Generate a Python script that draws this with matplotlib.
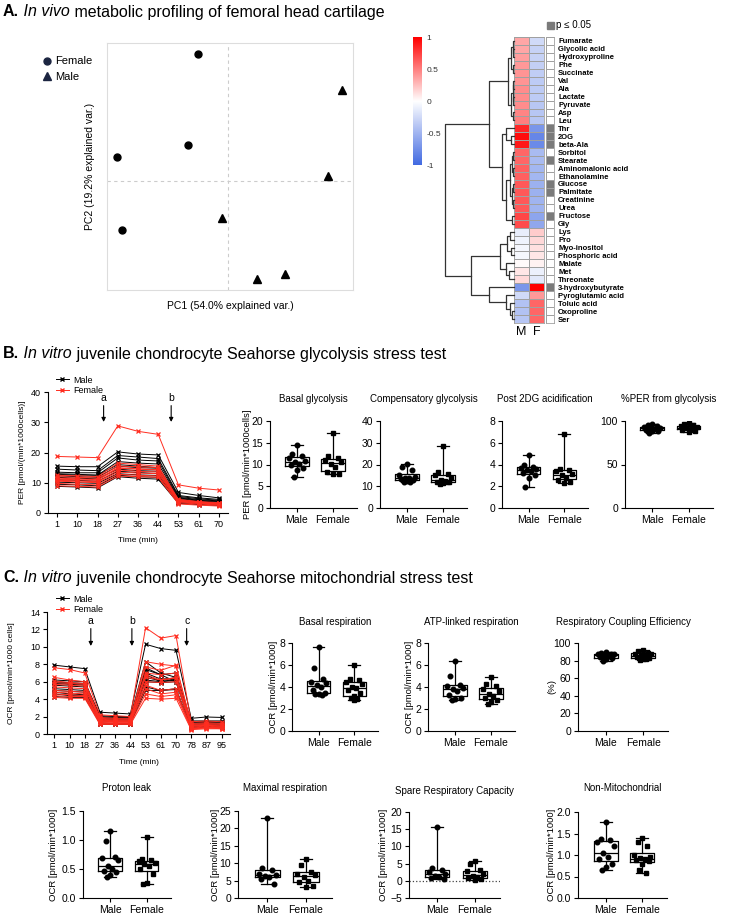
import numpy as np
import matplotlib
matplotlib.use('Agg')
import matplotlib.pyplot as plt
from matplotlib.colors import LinearSegmentedColormap, ListedColormap
from matplotlib.lines import Line2D

plt.rcParams['font.family'] = ['Liberation Sans', 'DejaVu Sans']
plt.rcParams['axes.linewidth'] = 0.8

# ---------------- A. PCA ----------------
pc1_female = [-0.75, -1.0, -2.78, -2.65]
pc2_female = [3.18, 0.9, 0.6, -1.23]
pc1_male = [2.85, 2.5, -0.15, 0.73, 1.43]
pc2_male = [2.28, 0.13, -0.93, -2.45, -2.33]

# ---------------- A. heatmap ----------------
metabolites = ['Fumarate', 'Glycolic acid', 'Hydroxyproline', 'Phe', 'Succinate', 'Val', 'Ala',
               'Lactate', 'Pyruvate', 'Asp', 'Leu', 'Thr', '2OG', 'beta-Ala', 'Sorbitol', 'Stearate',
               'Aminomalonic acid', 'Ethanolamine', 'Glucose', 'Palmitate', 'Creatinine', 'Urea',
               'Fructose', 'Gly', 'Lys', 'Pro', 'Myo-inositol', 'Phosphoric acid', 'Malate', 'Met',
               'Threonate', '3-hydroxybutyrate', 'Pyroglutamic acid', 'Toluic acid', 'Oxoproline', 'Ser']
corr_male = [0.35, 0.35, 0.38, 0.40, 0.42, 0.42, 0.45, 0.45, 0.45, 0.48, 0.50,
             0.85, 0.95, 0.90, 0.60, 0.60, 0.62, 0.62, 0.65, 0.65, 0.65, 0.65, 0.72, 0.70,
             -0.12, -0.08, -0.06, -0.05, 0.02, 0.10, 0.15,
             -0.70, -0.25, -0.40, -0.40, -0.38]
corr_female = [-0.25, -0.30, -0.30, -0.32, -0.33, -0.35, -0.35, -0.35, -0.37, -0.38, -0.38,
               -0.70, -0.80, -0.78, -0.45, -0.45, -0.48, -0.48, -0.52, -0.52, -0.50, -0.50, -0.60, -0.58,
               0.20, 0.15, 0.12, 0.10, 0.05, -0.10, -0.15,
               1.00, 0.40, 0.60, 0.60, 0.60]
p_sig = [0, 0, 0, 0, 0, 0, 0, 0, 0, 0, 0,
         1, 1, 1, 0, 1, 0, 0, 1, 1, 0, 0, 1, 0,
         0, 0, 0, 0, 0, 0, 0,
         1, 0, 0, 0, 0]

# row dendrogram: (height, left, right), leaves are row indices
row_tree = (1.0,
            (0.36,
             (0.09,
              (0.04, (0.02, 0, (0.01, 1, 2)), (0.02, 3, 4)),
              (0.05, (0.02, (0.01, 5, 6), (0.01, 7, 8)), (0.02, 9, 10))),
             (0.18,
              (0.12, 11, (0.04, 12, 13)),
              (0.12,
               (0.06, (0.03, (0.015, 14, 15), (0.015, 16, 17)), (0.03, (0.015, 18, 19), (0.015, 20, 21))),
               (0.03, 22, 23)))),
            (0.62,
             (0.21, (0.10, (0.06, 24, 25), (0.04, 26, 27)), (0.12, 28, (0.07, 29, 30))),
             (0.36, 31, (0.12, 32, (0.06, 33, (0.03, 34, 35))))))

# ---------------- B. glycolysis stress test ----------------
glyco_times = ['1', '10', '18', '27', '36', '44', '53', '61', '70']
per_male = [
    [15.5, 15.3, 15.3, 20.2, 19.5, 19.2, 6.8, 5.8, 5.0],
    [14.5, 14.2, 14.0, 19.0, 18.5, 18.0, 5.8, 5.0, 4.5],
    [13.5, 13.3, 13.3, 18.2, 17.5, 17.2, 5.5, 4.7, 4.2],
    [13.0, 12.8, 12.5, 17.0, 16.5, 16.2, 5.2, 4.4, 4.0],
    [12.8, 12.5, 12.5, 16.0, 15.5, 15.0, 5.0, 4.2, 3.8],
    [12.3, 12.0, 11.8, 15.5, 15.0, 14.8, 4.8, 4.0, 3.6],
    [11.8, 11.5, 11.3, 14.5, 14.0, 13.8, 4.5, 3.8, 3.4],
    [11.0, 10.8, 10.5, 13.8, 13.4, 13.0, 4.2, 3.6, 3.2],
    [10.2, 10.0, 9.8, 13.0, 12.6, 12.4, 3.8, 3.3, 3.0],
    [9.5, 9.3, 9.0, 12.5, 12.0, 11.8, 3.5, 3.0, 2.8],
    [8.8, 8.6, 8.3, 12.0, 11.5, 11.2, 3.2, 2.8, 2.5],
]
per_female = [
    [18.7, 18.5, 18.3, 28.8, 27.0, 26.0, 9.3, 8.2, 7.6],
    [12.5, 12.3, 12.0, 16.5, 16.0, 15.5, 4.5, 3.8, 3.4],
    [12.0, 11.8, 11.5, 15.5, 15.3, 15.0, 4.2, 3.6, 3.2],
    [11.5, 11.3, 11.0, 15.0, 14.6, 14.3, 4.3, 3.6, 3.2],
    [11.2, 11.0, 10.8, 14.8, 14.5, 14.2, 4.0, 3.4, 3.0],
    [10.8, 10.6, 10.3, 14.2, 13.8, 13.5, 3.9, 3.3, 2.9],
    [10.5, 10.3, 10.0, 13.5, 13.2, 13.0, 3.7, 3.2, 2.8],
    [9.8, 9.5, 9.3, 12.8, 12.5, 12.2, 3.4, 3.0, 2.6],
    [9.0, 8.8, 8.6, 12.2, 12.0, 11.8, 3.0, 2.6, 2.3],
]
basal_glyco_m = [14.4, 12.3, 12.0, 11.5, 10.8, 10.5, 10.2, 9.8, 9.3, 8.8, 7.2]
basal_glyco_f = [17.2, 12.0, 11.5, 11.0, 10.5, 10.2, 9.5, 8.2, 7.9, 7.8]
comp_glyco_m = [20.3, 19.0, 17.5, 15.0, 14.2, 14.0, 13.8, 13.5, 13.0, 12.5, 12.0, 11.8]
comp_glyco_f = [28.7, 16.5, 15.5, 15.0, 14.0, 13.0, 12.5, 12.0, 11.8, 11.5, 11.2]
post2dg_m = [4.9, 4.0, 3.8, 3.7, 3.6, 3.5, 3.4, 3.2, 3.0, 2.8, 1.95]
post2dg_f = [6.85, 3.6, 3.5, 3.4, 3.1, 3.0, 2.8, 2.6, 2.4, 2.3]
pct_per_m = [97, 95, 94, 93, 92, 92, 91, 90, 89, 88, 86]
pct_per_f = [98, 97, 95, 94, 93, 92, 91, 90, 89, 87]

# ---------------- C. mito stress test ----------------
mito_times = ['1', '10', '18', '27', '36', '44', '53', '61', '70', '78', '87', '95']
ocr_male = [
    [7.9, 7.7, 7.5, 2.5, 2.4, 2.3, 10.3, 9.8, 9.6, 1.8, 1.95, 1.9],
    [6.2, 6.1, 6.0, 2.1, 2.0, 2.0, 8.3, 7.0, 6.5, 1.5, 1.5, 1.5],
    [6.0, 5.9, 5.8, 2.0, 1.9, 1.9, 7.4, 6.8, 7.0, 1.4, 1.4, 1.4],
    [5.9, 5.8, 5.7, 1.1, 1.1, 1.1, 7.6, 6.8, 6.0, 1.0, 1.0, 1.0],
    [5.8, 5.7, 5.6, 1.9, 1.8, 1.8, 7.0, 6.3, 6.4, 1.3, 1.3, 1.3],
    [5.6, 5.5, 5.4, 1.8, 1.7, 1.7, 6.8, 6.0, 6.2, 1.2, 1.3, 1.2],
    [5.2, 5.1, 5.0, 1.7, 1.6, 1.6, 6.5, 6.1, 6.5, 1.1, 1.2, 1.1],
    [5.0, 4.9, 4.8, 1.6, 1.5, 1.5, 6.2, 6.0, 6.3, 1.0, 1.1, 1.0],
    [4.8, 4.6, 4.5, 1.5, 1.4, 1.4, 6.0, 5.9, 6.0, 0.9, 1.0, 1.0],
    [4.6, 4.4, 4.4, 1.2, 1.2, 1.2, 5.4, 5.0, 5.1, 0.7, 0.8, 0.8],
    [4.3, 4.2, 4.2, 1.3, 1.2, 1.2, 5.0, 5.0, 5.2, 0.8, 0.9, 0.8],
]
ocr_female = [
    [7.6, 7.4, 7.0, 2.2, 2.1, 2.0, 12.2, 11.0, 11.3, 1.4, 1.5, 1.4],
    [6.5, 6.2, 6.0, 1.9, 1.8, 1.8, 8.3, 8.0, 7.8, 1.2, 1.3, 1.2],
    [6.1, 5.9, 5.8, 1.8, 1.7, 1.7, 7.7, 7.3, 7.9, 1.1, 1.2, 1.1],
    [5.9, 5.8, 5.7, 1.5, 1.4, 1.4, 6.8, 6.2, 6.5, 1.0, 1.0, 0.9],
    [5.7, 5.6, 5.5, 1.7, 1.6, 1.6, 7.0, 6.8, 7.0, 1.0, 1.1, 1.0],
    [5.4, 5.3, 5.2, 1.6, 1.5, 1.5, 6.5, 6.2, 6.4, 0.9, 1.0, 0.9],
    [5.0, 4.9, 4.8, 1.5, 1.5, 1.5, 6.0, 5.9, 6.0, 0.8, 0.9, 0.8],
    [4.8, 4.7, 4.6, 1.4, 1.4, 1.4, 5.6, 5.0, 5.2, 0.7, 0.8, 0.7],
    [4.6, 4.5, 4.4, 1.3, 1.3, 1.3, 5.2, 4.6, 4.8, 0.6, 0.7, 0.7],
    [4.4, 4.3, 4.3, 1.2, 1.2, 1.2, 4.6, 4.3, 4.5, 0.6, 0.7, 0.6],
    [4.2, 4.1, 4.1, 1.1, 1.1, 1.1, 4.1, 4.0, 4.1, 0.5, 0.6, 0.6],
]
basal_resp_m = [7.6, 5.75, 4.7, 4.5, 4.4, 4.2, 4.0, 3.7, 3.5, 3.4, 3.35, 3.3]
basal_resp_f = [6.0, 4.7, 4.6, 4.5, 4.3, 4.0, 3.9, 3.7, 3.5, 3.2, 3.0, 2.9, 2.8]
atp_resp_m = [6.4, 5.0, 4.2, 4.1, 3.9, 3.8, 3.6, 3.3, 3.0, 2.9, 2.85]
atp_resp_f = [4.95, 4.3, 4.1, 3.8, 3.6, 3.4, 3.2, 3.0, 2.8, 2.6, 2.45]
coupling_m = [90, 89, 88, 87, 87, 86, 85, 84, 83, 82, 80]
coupling_f = [92, 91, 89, 88, 87, 86, 85, 84, 83, 82, 81, 82]
proton_leak_m = [1.15, 0.98, 0.70, 0.69, 0.65, 0.55, 0.50, 0.47, 0.45, 0.40, 0.37]
proton_leak_f = [1.05, 0.67, 0.65, 0.63, 0.60, 0.58, 0.55, 0.50, 0.42, 0.26, 0.25]
max_resp_m = [23.0, 8.6, 8.0, 7.0, 6.5, 6.2, 6.0, 5.5, 4.0]
max_resp_f = [11.2, 9.5, 7.5, 7.0, 6.5, 6.0, 5.0, 4.5, 3.5, 3.3]
spare_m = [15.5, 3.7, 3.2, 2.5, 2.0, 1.5, 1.0, 0.8, 0.4]
spare_f = [5.8, 5.0, 3.0, 2.8, 2.0, 1.5, 1.0, 0.8, 0.5, 0.2]
nonmito_m = [1.77, 1.38, 1.35, 1.30, 1.20, 1.05, 0.95, 0.90, 0.80, 0.72, 0.64]
nonmito_f = [1.40, 1.30, 1.20, 1.00, 0.95, 0.92, 0.90, 0.88, 0.85, 0.80, 0.65, 0.57]

RED = '#ff2d20'
W, H = 744, 917
fig = plt.figure(figsize=(W / 100, H / 100), dpi=100)


def px_axes(x0, y0, x1, y1):
    return fig.add_axes([x0 / W, 1 - y1 / H, (x1 - x0) / W, (y1 - y0) / H])


def panel_title(x, y, parts, size=11.5):
    r = fig.canvas.get_renderer()
    for text, style in parts:
        t = fig.text(x / W, 1 - y / H, text, fontsize=size, va='center', ha='left',
                     fontweight='bold' if style == 'b' else 'normal',
                     fontstyle='italic' if style == 'i' else 'normal')
        x += t.get_window_extent(renderer=r).width


def ylabel_at(ax, text, xpx, size):
    x0 = ax.get_position().x0 * W
    w = ax.get_position().width * W
    ax.set_ylabel(text, fontsize=size)
    ax.yaxis.label.set_va('center')
    ax.yaxis.set_label_coords((xpx - x0) / w, 0.5)


# ======== A ========
panel_title(3, 12, [('A.', 'b'), (' In vivo', 'i'), (' metabolic profiling of femoral head cartilage', 'n')])

ax = px_axes(107, 43, 353, 290)
ax.set_xlim(-3.025, 3.125)
ax.set_ylim(-2.725, 3.45)
ax.axvline(0, color='#cccccc', ls=(0, (3, 3)), lw=0.8)
ax.axhline(0, color='#cccccc', ls=(0, (3, 3)), lw=0.8)
ax.plot(pc1_female, pc2_female, 'o', color='black', ms=5)
ax.plot(pc1_male, pc2_male, '^', color='black', ms=6)
ax.set_xticks([])
ax.set_yticks([])
for s in ax.spines.values():
    s.set_color('#dddddd')
ax.set_xlabel('PC1 (54.0% explained var.)', fontsize=7.5, labelpad=8)
ylabel_at(ax, 'PC2 (19.2% explained var.)', 90, 7.5)
handles = [Line2D([], [], marker='o', ls='none', color='#1c2541', ms=5),
           Line2D([], [], marker='^', ls='none', color='#1c2541', ms=6)]
fig.legend(handles, ['Female', 'Male'], loc='upper left', bbox_to_anchor=(36 / W, 1 - 52 / H),
           frameon=False, fontsize=8, handletextpad=0.1, labelspacing=0.5, borderaxespad=0,
           handlelength=1.2)

# heatmap
cmap = LinearSegmentedColormap.from_list('bwr2', ['#4169e1', 'white', '#ff0000'])
n_rows = len(metabolites)
axh = px_axes(514, 37, 544, 323)
im = axh.pcolormesh(np.column_stack([corr_male, corr_female]), cmap=cmap, vmin=-1, vmax=1,
                    edgecolors='#a0a0a0', linewidth=0.5)
axh.set_ylim(n_rows, 0)
axh.set_xticks([0.5, 1.5])
axh.set_xticklabels(['M', 'F'], fontsize=9)
axh.set_yticks([])
axh.tick_params(length=0, pad=2)
for s in axh.spines.values():
    s.set_color('#a0a0a0')
    s.set_linewidth(0.6)

axp = px_axes(546, 37, 554, 323)
axp.pcolormesh(np.array(p_sig)[:, None], cmap=ListedColormap(['white', '#7a7a7a']), vmin=0, vmax=1,
               edgecolors='#a0a0a0', linewidth=0.5)
axp.set_ylim(n_rows, 0)
axp.set_xticks([])
axp.set_yticks(np.arange(n_rows) + 0.5)
axp.set_yticklabels(metabolites, fontsize=5.5, fontweight='bold')
axp.yaxis.tick_right()
axp.tick_params(length=0, pad=3)
for s in axp.spines.values():
    s.set_color('#a0a0a0')
    s.set_linewidth(0.6)

fig.patches.append(plt.Rectangle((547 / W, 1 - 29 / H), 7 / W, 7 / H, transform=fig.transFigure,
                                 color='#7a7a7a'))
fig.text(556 / W, 1 - 25 / H, 'p ≤ 0.05', fontsize=7, va='center')

# dendrogram
axd = px_axes(445, 37, 514, 323)


def draw_node(node):
    if isinstance(node, int):
        return node + 0.5, 0.0
    h, a, b = node
    ya, ha = draw_node(a)
    yb, hb = draw_node(b)
    axd.plot([ha, h, h, hb], [ya, ya, yb, yb], color='#333333', lw=0.9, clip_on=False)
    return (ya + yb) / 2, h


draw_node(row_tree)
axd.set_xlim(1.0, 0)
axd.set_ylim(n_rows, 0)
axd.axis('off')

cax = px_axes(413, 37, 422, 165)
cb = fig.colorbar(im, cax=cax)
cb.outline.set_visible(False)
cb.set_ticks([1, 0.5, 0, -0.5, -1])
cb.set_ticklabels(['1', '0.5', '0', '-0.5', '-1'])
cax.tick_params(length=0, labelsize=6, pad=3, labelcolor='#333333')


# ======== line charts ========
def line_panel(box, times, male, female, ylim, yticks, ylabel, ylabel_x, arrows, arrow_y, xlim,
               time_y, legend_y):
    ax = px_axes(*box)
    x = np.arange(len(times))
    for row in male:
        ax.plot(x, row, color='black', marker='x', ms=3.5, lw=0.7, mew=0.9)
    for row in female:
        ax.plot(x, row, color=RED, marker='x', ms=3.5, lw=0.7, mew=0.9)
    ax.set_xticks(x)
    ax.set_xticklabels(times)
    ax.set_xlim(*xlim)
    ax.set_ylim(*ylim)
    ax.set_yticks(yticks)
    ax.tick_params(labelsize=6.5, length=3, width=0.8, pad=2)
    ax.spines[['top', 'right']].set_visible(False)
    ylabel_at(ax, ylabel, ylabel_x, 6)
    ax.set_xlabel('Time (min)', fontsize=6)
    ax.xaxis.set_label_coords(0.5, 1 - (time_y - box[1]) / (box[3] - box[1]))
    ax.xaxis.label.set_va('center')
    top, tip, lab = arrow_y
    for label, xa in arrows:
        ax.annotate('', xy=(xa, tip), xytext=(xa, top),
                    arrowprops=dict(arrowstyle='-|>', color='black', lw=0.8, mutation_scale=6,
                                    shrinkA=0, shrinkB=0))
        ax.text(xa, lab, label, ha='center', va='center', fontsize=7.5)
    h = [Line2D([], [], color='black', marker='x', ms=3.5, lw=0.7),
         Line2D([], [], color=RED, marker='x', ms=3.5, lw=0.7)]
    fig.legend(h, ['Male', 'Female'], loc='upper left', bbox_to_anchor=(52 / W, 1 - legend_y / H),
               frameon=False, fontsize=6.5, handlelength=1.5, handletextpad=0.4, labelspacing=0.15,
               borderaxespad=0)
    return ax


# ======== box plots ========
SPREAD = np.array([0, -0.13, 0.13, -0.22, 0.22, -0.06, 0.06, -0.17, 0.17, 0.0, -0.09, 0.09, 0.0])


def box_panel(box, male, female, title, ylim, yticks, title_y, ylabel=None, ylabel_x=None,
              zero_line=False, yfmt=None):
    ax = px_axes(*box)
    data = [male, female]
    kw = dict(color='black', lw=0.9)
    ax.boxplot(data, positions=[0, 1], widths=0.65, whis=(0, 100), showfliers=False,
               boxprops=kw, whiskerprops=kw, capprops=kw, medianprops=kw)
    for i, (vals, mk) in enumerate(zip(data, ['o', 's'])):
        offs = np.resize(SPREAD, len(vals))
        ax.plot(i + offs, vals, mk, color='black', ms=3.3, ls='none', zorder=3)
    if zero_line:
        ax.axhline(0, color='#444444', ls=':', lw=0.9, zorder=1)
    ax.set_xlim(-0.75, 1.67)
    ax.set_ylim(*ylim)
    ax.set_yticks(yticks)
    if yfmt:
        ax.set_yticklabels([yfmt.format(v) for v in yticks])
    ax.set_xticks([0, 1])
    ax.set_xticklabels(['Male', 'Female'])
    ax.tick_params(labelsize=7.5, length=3, width=0.8, pad=2)
    ax.spines[['top', 'right']].set_visible(False)
    cx = (box[0] + box[2]) / 2
    fig.text(cx / W, 1 - title_y / H, title, ha='center', va='center', fontsize=7)
    if ylabel:
        ylabel_at(ax, ylabel, ylabel_x, 6.8)
    return ax


# ======== B ========
panel_title(3, 354, [('B.', 'b'), (' In vitro', 'i'),
                     (' juvenile chondrocyte Seahorse glycolysis stress test', 'n')])
line_panel((48, 392, 228, 513), glyco_times, per_male, per_female, (0, 40), [0, 10, 20, 30, 40],
           'PER [pmol/(min*1000cells)]', 22, [('a', 2.3), ('b', 5.64)], (35.5, 30.1, 38.0),
           (-0.45, 8.45), 541, 372)
box_panel((270, 421, 357, 508), basal_glyco_m, basal_glyco_f, 'Basal glycolysis', (0, 20),
          [0, 5, 10, 15, 20], 399, 'PER [pmol/min*1000cells]', 247)
box_panel((380, 421, 467, 508), comp_glyco_m, comp_glyco_f, 'Compensatory glycolysis', (0, 40),
          [0, 10, 20, 30, 40], 399)
box_panel((502, 421, 588, 508), post2dg_m, post2dg_f, 'Post 2DG acidification', (0, 8),
          [0, 2, 4, 6, 8], 399)
box_panel((625, 421, 713, 508), pct_per_m, pct_per_f, '%PER from glycolysis', (0, 100),
          [0, 50, 100], 399)

# ======== C ========
panel_title(3, 578, [('C.', 'b'), (' In vitro', 'i'),
                     (' juvenile chondrocyte Seahorse mitochondrial stress test', 'n')])
line_panel((47, 612, 230, 734), mito_times, ocr_male, ocr_female, (0, 14), list(range(0, 15, 2)),
           'OCR [pmol/min*1000 cells]', 12, [('a', 2.4), ('b', 5.1), ('c', 8.7)], (12.1, 10.1, 13.0),
           (-0.48, 11.55), 763, 591)
box_panel((292, 643, 378, 731), basal_resp_m, basal_resp_f, 'Basal respiration', (0, 8),
          [0, 2, 4, 6, 8], 622, 'OCR [pmol/min*1000]', 273)
box_panel((428, 643, 515, 731), atp_resp_m, atp_resp_f, 'ATP-linked respiration', (0, 8),
          [0, 2, 4, 6, 8], 622, 'OCR [pmol/min*1000]', 410)
box_panel((578, 643, 668, 731), coupling_m, coupling_f, 'Respiratory Coupling Efficiency', (0, 100),
          [0, 20, 40, 60, 80, 100], 622, '(%)', 552)
box_panel((83, 811, 171, 898), proton_leak_m, proton_leak_f, 'Proton leak', (0, 1.5),
          [0, 0.5, 1.0, 1.5], 788, 'OCR [pmol/min*1000]', 53, yfmt='{:.1f}')
box_panel((238, 811, 332, 898), max_resp_m, max_resp_f, 'Maximal respiration', (0, 25),
          [0, 5, 10, 15, 20, 25], 788, 'OCR [pmol/min*1000]', 215)
box_panel((409, 812, 500, 898), spare_m, spare_f, 'Spare Respiratory Capacity', (-5, 20),
          [-5, 0, 5, 10, 15, 20], 791, 'OCR [pmol/min*1000]', 384, zero_line=True)
box_panel((578, 812, 667, 898), nonmito_m, nonmito_f, 'Non-Mitochondrial', (0, 2.0),
          [0, 0.5, 1.0, 1.5, 2.0], 788, 'OCR [pmol/min*1000]', 552, yfmt='{:.1f}')

fig.savefig('out.png', dpi=100)
